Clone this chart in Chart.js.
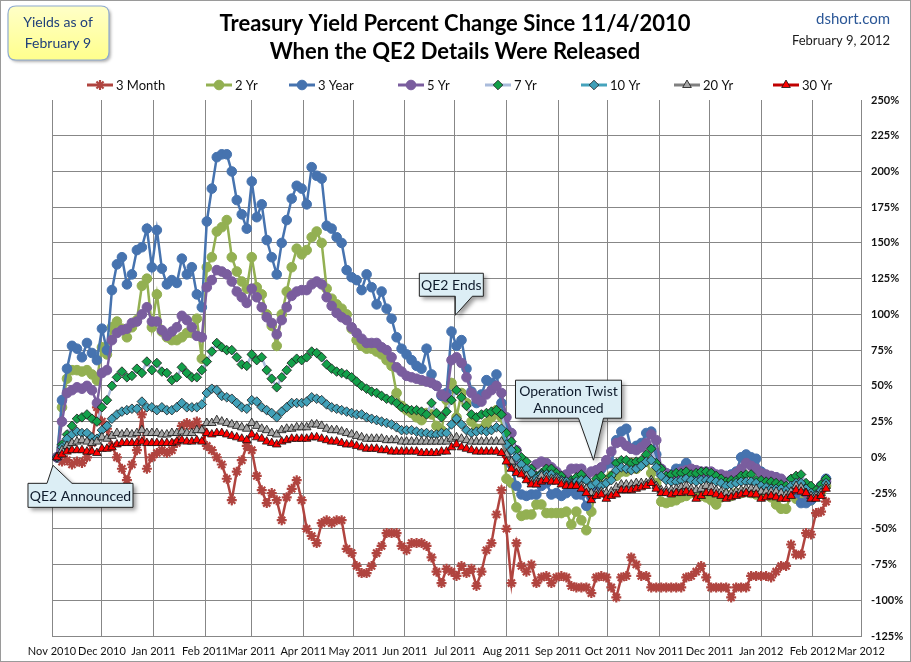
<!DOCTYPE html>
<html><head><meta charset="utf-8">
<script src="https://cdn.jsdelivr.net/npm/chart.js@4/dist/chart.umd.min.js"></script>
<style>html,body{margin:0;padding:0;background:#fff}canvas{display:block}</style>
</head><body>
<canvas id="c" width="911" height="662"></canvas>
<script>
const FONT = "Lato,'Open Sans',Arial,sans-serif";

// day offsets from Nov 1, 2010 (sample dates)
const days = [3,6,9,12,15,18,21,24,27,
30,33,36,39,42,45,48,51,54,57,60,
63,66,69,72,75,78,81,84,87,90,
93,96,99,102,105,108,111,114,117,
120,123,126,129,132,135,138,141,144,147,150,
153,156,159,162,165,168,171,174,177,180,
183,186,189,192,195,198,201,204,207,210,
213,216,219,222,225,228,231,234,237,240,
243,246,249,252,255,258,261,264,267,270,
273,276,279,282,285,288,291,294,297,300,303,
306,309,312,315,318,321,324,327,330,333,
336,339,342,345,348,351,354,357,360,363,
366,369,372,375,378,381,384,387,390,393,
396,399,402,405,408,411,414,417,420,423,
426,429,432,435,438,441,444,447,450,453,456,
459,462,465];

// month tick positions (days from Nov 1, 2010) and labels
const tickDays = [0,30,61,92,120,151,181,212,242,273,304,334,365,395,426,457,486];
const tickLabels = ['Nov 2010','Dec 2010','Jan 2011','Feb 2011','Mar 2011','Apr 2011','May 2011','Jun 2011','Jul 2011','Aug 2011','Sep 2011','Oct 2011','Nov 2011','Dec 2011','Jan 2012','Feb 2012','Mar 2012'];

const m3 = [0,-3,-2,-5,-3,-4,0,10,35,
25,20,8,0,-8,-16,-5,5,30,-8,0,
3,5,3,5,10,22,24,22,25,20,
8,5,0,-5,-15,-30,-10,-2,8,
5,-13,-23,-32,-25,-30,-44,-28,-22,-16,-30,
-50,-55,-60,-46,-44,-46,-44,-44,-64,-67,
-76,-81,-81,-76,-67,-62,-53,-53,-53,-62,
-65,-60,-60,-60,-62,-70,-80,-88,-78,-80,
-83,-76,-81,-78,-90,-80,-65,-60,-40,-23,
-50,-88,-60,-76,-80,-75,-88,-84,-83,-88,-84,
-83,-84,-90,-91,-91,-91,-95,-84,-83,-84,
-91,-98,-84,-83,-70,-75,-83,-83,-91,-91,
-91,-91,-91,-91,-91,-84,-83,-80,-76,-84,
-91,-91,-91,-91,-98,-91,-91,-91,-83,-83,
-83,-83,-84,-80,-76,-76,-61,-68,-68,-53,-54,
-39,-38,-31];

const y2 = [0,35,55,61,61,60,61,58,54,
77,72,91,95,90,84,91,96,120,125,91,
114,88,84,82,82,84,87,87,97,69,
133,140,158,161,166,140,130,123,118,
140,119,114,100,92,78,100,116,133,146,142,
145,154,158,150,118,111,107,104,100,90,
82,78,76,76,74,72,68,64,45,36,
33,31,28,26,31,30,22,19,40,52,
28,45,38,25,20,20,24,28,33,28,
-15,-18,-35,-41,-40,-40,-33,-33,-39,-39,-39,
-39,-38,-47,-38,-44,-51,-38,-18,-18,-16,
-13,-13,-10,-10,-4,-8,-5,-3,-11,-18,
-31,-32,-31,-30,-28,-27,-25,-26,-27,-28,
-30,-33,-28,-26,-27,-25,-25,-24,-25,-26,
-27,-26,-28,-33,-36,-36,-26,-29,-29,-29,-30,
-26,-24,-20];

const y3 = [0,40,62,78,76,70,80,73,68,
90,75,117,135,140,121,128,145,147,160,133,
159,132,121,124,122,139,128,133,114,105,
165,188,210,212,212,200,180,170,160,
193,168,177,152,140,128,150,166,181,190,188,
177,203,197,195,162,160,154,150,131,126,
124,117,128,119,107,116,104,97,84,76,
72,68,64,62,76,58,50,43,45,88,
78,82,62,46,38,44,54,52,58,38,
20,-5,-20,-26,-27,-26,-26,-20,-18,-26,-25,
-27,-25,-23,-26,-26,-34,-28,-22,-8,-5,
-4,12,18,20,6,8,10,17,18,2,
-11,-13,-12,-8,-8,-4,-10,-12,-11,-13,
-12,-14,-13,-14,-12,-10,0,2,0,-1,
-10,-13,-15,-14,-17,-20,-16,-25,-32,-32,-30,
-25,-20,-15];

const y5 = [0,25,45,47,49,48,50,47,38,
59,61,82,87,89,90,94,95,100,105,95,
95,89,85,88,91,99,96,91,85,84,
119,124,131,130,128,123,116,112,108,
118,112,105,98,94,86,96,105,113,116,117,
117,121,123,121,112,106,101,98,96,91,
87,83,80,80,80,77,75,70,63,60,
57,56,55,54,53,52,50,44,42,68,
70,66,56,45,41,39,44,47,50,45,
28,17,5,-3,-7,-9,-5,-3,-4,-7,-10,
-13,-12,-8,-8,-8,-13,-10,-9,-7,-2,
4,10,11,8,6,5,7,10,16,12,
-8,-11,-13,-12,-10,-9,-8,-9,-10,-10,
-10,-12,-12,-13,-13,-11,-8,-4,-6,-8,
-11,-12,-13,-14,-15,-18,-20,-16,-20,-25,-28,
-25,-22,-17];

const y7 = [0,9,16,22,27,28,30,27,25,
35,40,50,56,60,56,57,62,59,67,61,
66,60,59,54,56,63,59,56,56,61,
67,74,80,77,75,75,70,65,64,
72,68,70,61,55,49,56,61,66,69,68,
70,74,73,70,65,62,60,59,58,56,
53,50,48,46,45,43,41,40,38,35,
34,33,33,32,30,38,31,28,32,40,
47,42,36,30,28,30,31,32,33,30,
17,11,5,0,-3,-8,-13,-11,-8,-8,-11,
-13,-17,-16,-14,-12,-16,-20,-15,-13,-18,
-13,-4,-2,-2,-4,-3,-2,2,6,-4,
-8,-13,-12,-11,-11,-10,-12,-11,-10,-10,
-11,-13,-15,-17,-16,-16,-13,-12,-12,-16,
-16,-17,-17,-18,-19,-20,-15,-13,-12,-18,-20,
-23,-19,-15];

const y10 = [0,7,13,16,18,17,17,14,13,
19,22,27,30,32,33,34,34,39,35,35,
33,35,33,33,35,38,35,35,35,37,
45,48,47,43,42,41,38,35,34,
40,39,35,33,31,28,32,35,38,38,38,
39,42,41,40,37,35,34,33,32,31,
30,30,28,27,26,25,24,23,21,19,
19,19,18,17,17,16,16,17,17,23,
27,23,19,17,18,19,18,19,21,20,
9,5,0,-5,-8,-11,-15,-12,-12,-12,-14,
-16,-17,-18,-17,-16,-16,-20,-18,-20,-18,
-16,-9,-7,-8,-9,-8,-6,-3,-2,-7,
-13,-16,-17,-17,-16,-15,-16,-17,-16,-16,
-16,-17,-18,-20,-19,-18,-17,-17,-17,-18,
-20,-21,-22,-22,-22,-23,-20,-18,-18,-22,-25,
-26,-23,-18];

const y20 = [0,5,8,10,11,12,11,10,11,
14,13,15,17,16,17,16,17,19,17,17,
17,16,16,17,17,18,17,17,19,19,
24,24,26,25,24,23,22,21,20,
24,22,20,19,17,16,19,20,20,21,21,
21,23,23,22,20,19,19,18,17,16,
15,14,13,13,13,13,12,12,12,11,
11,11,11,11,11,11,11,11,11,13,
14,13,12,11,11,11,11,11,11,11,
2,-3,-8,-10,-13,-17,-17,-13,-14,-15,-15,
-17,-19,-19,-20,-20,-22,-25,-25,-24,-25,
-24,-21,-19,-19,-19,-18,-18,-18,-16,-20,
-23,-23,-23,-22,-21,-20,-22,-23,-22,-20,
-21,-23,-24,-25,-25,-24,-23,-22,-22,-22,
-24,-24,-24,-24,-25,-26,-24,-20,-21,-25,-27,
-27,-25,-20];

const y30 = [0,2,4,5,5,5,4,4,3,
6,6,7,9,10,10,10,10,11,10,10,
10,10,10,10,11,12,11,11,12,11,
17,16,17,17,16,15,14,13,12,
16,14,13,11,10,9,11,12,13,13,13,
13,14,14,13,12,11,11,10,9,9,
8,7,6,6,6,5,5,4,4,4,
4,4,4,3,3,3,3,4,4,7,
9,7,6,5,4,4,4,4,4,3,
-3,-8,-11,-12,-16,-19,-19,-17,-16,-17,-17,
-19,-20,-20,-20,-22,-25,-30,-27,-26,-29,
-27,-26,-23,-23,-23,-22,-21,-20,-18,-22,
-25,-25,-26,-25,-25,-24,-25,-29,-27,-25,
-25,-26,-27,-29,-28,-27,-26,-25,-26,-26,
-29,-28,-27,-28,-29,-29,-27,-23,-24,-25,-29,
-29,-27,-22];

const seriesNames = ['3 Month','2 Yr','3 Year','5 Yr','7 Yr','10 Yr','20 Yr','30 Yr'];
const seriesValues = [m3,y2,y3,y5,y7,y10,y20,y30];

const styles = [
  {line:'#B0443F', fill:'#B0443F', edge:'#B0443F', shape:'star', r:5, bw:2.2, lw:2.5},
  {line:'#93B052', fill:'#93B052', edge:'#93B052', shape:'circle', r:4.8, bw:1, lw:2.5},
  {line:'#4673AF', fill:'#4673AF', edge:'#4673AF', shape:'circle', r:4.8, bw:1, lw:2.5},
  {line:'#7A5D9E', fill:'#7A5D9E', edge:'#7A5D9E', shape:'circle', r:4.8, bw:1, lw:2.5},
  {line:'#A9BBDB', fill:'#13A04A', edge:'#1a1a1a', shape:'rectRot', r:4.8, bw:0.8, lw:2.5},
  {line:'#45A3BC', fill:'#41A0B8', edge:'#1a1a1a', shape:'rectRot', r:4.8, bw:0.8, lw:2.5},
  {line:'#808080', fill:'#A6A6A6', edge:'#111111', shape:'triangle', r:5, bw:0.8, lw:2.5},
  {line:'#C00000', fill:'#FF0000', edge:'#111111', shape:'triangle', r:5, bw:0.8, lw:2.5}
];

const datasets = seriesNames.map((name,i)=>({
  label:name,
  data: days.map((d,k)=>({x:d, y:seriesValues[i][k]})),
  borderColor: styles[i].line,
  borderWidth: styles[i].lw,
  backgroundColor: styles[i].fill,
  pointStyle: styles[i].shape,
  pointRadius: styles[i].r,
  pointBackgroundColor: styles[i].fill,
  pointBorderColor: styles[i].edge,
  pointBorderWidth: styles[i].bw,
  tension: 0,
  order: seriesNames.length - i
}));

const legendX = [87,206,289,398,485,581,674,773];

const notes = [
  {lines:['QE2 Announced'], day:0.6, pct:-5.6, bx:-25, by:18, w:105, h:24, p1:-6, p2:19, below:true},
  {lines:['QE2 Ends'], day:242.3, pct:99.4, bx:-36, by:-42, w:64, h:23, p1:0, p2:17, below:false},
  {lines:['Operation Twist','Announced'], day:325.3, pct:-2, bx:-78, by:-80, w:106, h:38, p1:-15, p2:10, below:false}
];

function roundRect(c,x,y,w,h,r){
  c.beginPath();
  c.moveTo(x+r,y); c.lineTo(x+w-r,y); c.quadraticCurveTo(x+w,y,x+w,y+r);
  c.lineTo(x+w,y+h-r); c.quadraticCurveTo(x+w,y+h,x+w-r,y+h);
  c.lineTo(x+r,y+h); c.quadraticCurveTo(x,y+h,x,y+h-r);
  c.lineTo(x,y+r); c.quadraticCurveTo(x,y,x+r,y); c.closePath();
}

const extras = {
  id:'extras',
  beforeDraw(chart){
    const c = chart.ctx; c.save();
    c.fillStyle = '#fff'; c.fillRect(0,0,chart.width,chart.height);
    c.restore();
  },
  afterDraw(chart){
    const c = chart.ctx;
    const xs = chart.scales.x, ys = chart.scales.y;
    c.save();
    // titles
    c.fillStyle = '#000'; c.textAlign = 'center'; c.textBaseline = 'middle';
    c.font = 'bold 22px ' + FONT;
    c.fillText('Treasury Yield Percent Change Since 11/4/2010', 455, 24);
    c.fillText('When the QE2 Details Were Released', 455, 52);
    // right notes
    c.textAlign = 'right';
    c.fillStyle = '#2B5797'; c.font = '15px ' + FONT;
    c.fillText('dshort.com', 890, 19);
    c.fillStyle = '#1a1a1a'; c.font = '13px ' + FONT;
    c.fillText('February 9, 2012', 890, 41);
    // yellow box
    c.save();
    c.shadowColor = 'rgba(0,0,0,0.3)'; c.shadowOffsetX = 2; c.shadowOffsetY = 2; c.shadowBlur = 3;
    const g = c.createLinearGradient(0,6,0,60);
    g.addColorStop(0,'#FFFFC8'); g.addColorStop(1,'#FFFF8C');
    roundRect(c,8,6,101,54,8); c.fillStyle = g; c.fill();
    c.restore();
    roundRect(c,8,6,101,54,8); c.strokeStyle = '#8EAAD0'; c.lineWidth = 1.2; c.stroke();
    c.textAlign = 'center'; c.fillStyle = '#1F3F7A'; c.font = '14px ' + FONT;
    c.fillText('Yields as of', 58, 22); c.fillText('February 9', 58, 43);
    // legend
    c.textAlign = 'left';
    seriesNames.forEach((name,i)=>{
      const lx = legendX[i], ly = 85, st = styles[i];
      c.strokeStyle = st.line; c.lineWidth = 3;
      c.beginPath(); c.moveTo(lx,ly); c.lineTo(lx+26,ly); c.stroke();
      c.fillStyle = st.fill; c.strokeStyle = st.edge; c.lineWidth = st.bw;
      Chart.helpers.drawPoint(c, {pointStyle:st.shape, radius:st.r, rotation:0, borderWidth:st.bw}, lx+13, ly);
      c.fillStyle = '#111'; c.font = '13px ' + FONT;
      c.fillText(name, lx+29, ly+1);
    });
    // callouts
    notes.forEach(n=>{
      const tx = xs.getPixelForValue(n.day), ty = ys.getPixelForValue(n.pct);
      const bx = tx + n.bx, by = ty + n.by;
      const path = ()=>{
        c.beginPath();
        c.moveTo(bx,by);
        if (n.below){
          c.lineTo(tx+n.p1,by); c.lineTo(tx,ty); c.lineTo(tx+n.p2,by);
        }
        c.lineTo(bx+n.w,by); c.lineTo(bx+n.w,by+n.h);
        if (!n.below){
          c.lineTo(tx+n.p2,by+n.h); c.lineTo(tx,ty); c.lineTo(tx+n.p1,by+n.h);
        }
        c.lineTo(bx,by+n.h); c.closePath();
      };
      c.save();
      c.shadowColor = 'rgba(0,0,0,0.4)'; c.shadowOffsetX = 3; c.shadowOffsetY = 3; c.shadowBlur = 4;
      path(); c.fillStyle = '#DCEEF5'; c.fill();
      c.restore();
      path(); c.strokeStyle = '#222'; c.lineWidth = 1; c.stroke();
      c.fillStyle = '#0E1A2B'; c.font = '14px ' + FONT; c.textAlign = 'center';
      n.lines.forEach((t,k)=>{
        c.fillText(t, bx + n.w/2, by + n.h/2 + (k - (n.lines.length-1)/2)*17 + 1);
      });
    });
    // outer border
    c.strokeStyle = '#9A9A9A'; c.lineWidth = 1;
    c.strokeRect(0.5,0.5,chart.width-1,chart.height-1);
    c.restore();
  }
};

new Chart(document.getElementById('c'), {
  type:'line',
  data:{datasets},
  options:{
    responsive:false, animation:false, devicePixelRatio:1,
    layout:{padding:{left:52, top:100, right:0, bottom:0}},
    plugins:{legend:{display:false}, tooltip:{enabled:false}},
    scales:{
      x:{
        type:'linear', min:0, max:486,
        afterBuildTicks:(s)=>{ s.ticks = tickDays.map(v=>({value:v})); },
        afterFit:(s)=>{ s.height = 26; },
        ticks:{autoSkip:false, maxRotation:0, padding:9, color:'#111',
          font:{family:FONT, size:11},
          callback:(v,i)=>tickLabels[i]},
        grid:{color:'#878787', lineWidth:1, drawTicks:false},
        border:{display:true, color:'#878787', width:1}
      },
      y:{
        position:'right', min:-125, max:250,
        afterFit:(s)=>{ s.width = 50; },
        ticks:{stepSize:25, padding:10, color:'#111',
          font:{family:FONT, size:11, weight:'bold'},
          callback:(v)=>v+'%'},
        grid:{color:(ctx)=> (ctx.tick && ctx.tick.value===250) ? 'rgba(0,0,0,0)' : '#878787', lineWidth:1, drawTicks:false},
        border:{display:true, color:'#878787', width:1}
      }
    }
  },
  plugins:[extras]
});
</script>
</body></html>
